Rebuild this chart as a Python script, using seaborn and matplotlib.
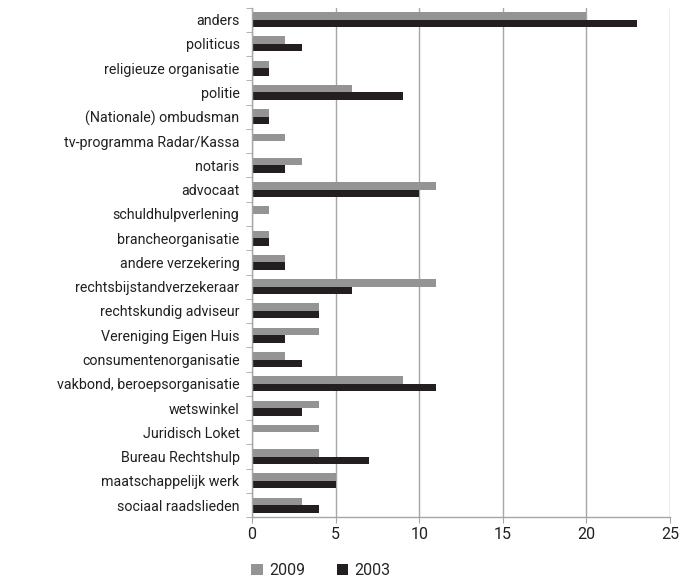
import pandas as pd
import numpy as np
import matplotlib.pyplot as plt
import seaborn as sns

categories = ['anders', 'politicus', 'religieuze organisatie', 'politie',
              '(Nationale) ombudsman', 'tv-programma Radar/Kassa', 'notaris',
              'advocaat', 'schuldhulpverlening', 'brancheorganisatie',
              'andere verzekering', 'rechtsbijstandverzekeraar',
              'rechtskundig adviseur', 'Vereniging Eigen Huis',
              'consumentenorganisatie', 'vakbond, beroepsorganisatie',
              'wetswinkel', 'Juridisch Loket', 'Bureau Rechtshulp',
              'maatschappelijk werk', 'sociaal raadslieden']
vals_2009 = [20, 2, 1, 6, 1, 2, 3, 11, 1, 1, 2, 11, 4, 4, 2, 9, 4, 4, 4, 5, 3]
vals_2003 = [23, 3, 1, 9, 1, 0, 2, 10, 0, 1, 2, 6, 4, 2, 3, 11, 3, 0, 7, 5, 4]
years = ['2009', '2003']
x_ticks = [0, 5, 10, 15, 20, 25]

df = pd.DataFrame({
    'categorie': categories * 2,
    'aantal': vals_2009 + vals_2003,
    'jaar': ['2009'] * len(categories) + ['2003'] * len(categories),
})

sns.set_style('white')
plt.rcParams['font.family'] = ['Roboto', 'DejaVu Sans']

fig = plt.figure(figsize=(6.83, 5.78), dpi=100)
ax = fig.add_axes([0.369, 0.105, 0.612, 0.882])

sns.barplot(data=df, x='aantal', y='categorie', hue='jaar', hue_order=years,
            order=categories, palette={'2009': '#949494', '2003': '#231f20'},
            width=0.62, saturation=1, linewidth=0, ax=ax, legend=True)

ax.set_xlim(0, 25)
ax.set_xticks(x_ticks)
ax.set_ylim(len(categories) - 0.5, -0.5)
ax.set_xlabel('')
ax.set_ylabel('')
ax.grid(axis='x', color='#a6a6a6', linewidth=1)
ax.set_axisbelow(True)
for s in ['top', 'right']:
    ax.spines[s].set_visible(False)
for s in ['left', 'bottom']:
    ax.spines[s].set_color('#a6a6a6')
    ax.spines[s].set_linewidth(1)

ax.set_yticks(np.arange(-0.5, len(categories)), minor=True)
ax.tick_params(axis='y', which='major', length=0, labelsize=10.3,
               colors='#231f20', pad=9)
ax.tick_params(axis='y', which='minor', length=4, color='#a6a6a6', left=True)
ax.tick_params(axis='x', length=4, color='#a6a6a6', labelsize=11.5,
               labelcolor='#231f20', bottom=True, pad=3)

ax.legend(loc='center', bbox_to_anchor=(0.47, 0.013),
          bbox_transform=fig.transFigure, ncol=2, frameon=False,
          fontsize=11.5, handlelength=0.7, handleheight=0.7,
          handletextpad=0.4, columnspacing=2.0)

fig.savefig('out.png', dpi=100)
